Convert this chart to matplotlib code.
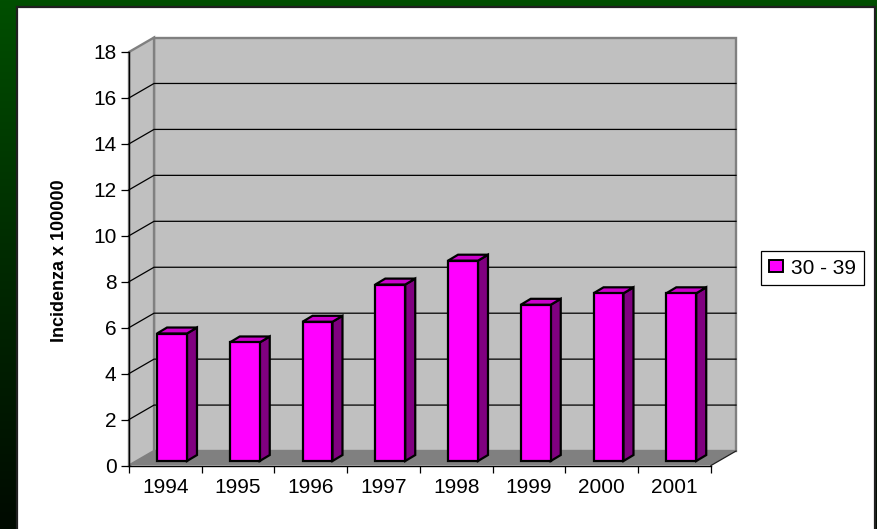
#!/usr/bin/env python3
"""Incidence per 100000 by year, age band 30 - 39, as a pseudo-3D column chart."""

import numpy as np
import matplotlib
matplotlib.use('Agg')
import matplotlib.pyplot as plt
from matplotlib.colors import LinearSegmentedColormap
from matplotlib.patches import Patch, Polygon, Rectangle

years = ['1994', '1995', '1996', '1997', '1998', '1999', '2000', '2001']
incidence = [5.55, 5.16, 6.06, 7.68, 8.72, 6.8, 7.3, 7.3]
y_ticks = [0, 2, 4, 6, 8, 10, 12, 14, 16, 18]
series_name = '30 - 39'
y_label = 'Incidenza x 100000'

W, H = 878, 529
FONT = 'Liberation Sans'

# depth of the chart box and of a single column, in data units
DEPTH_X, DEPTH_Y = 0.344, 0.63
BAR_DX, BAR_DY = 0.1375, 0.26
BAR_W = 0.412
BAR_SHIFT_X, BAR_SHIFT_Y = 0.385, 0.196


def add_poly(ax, pts, face, edge='none', lw=0, z=1):
    ax.add_patch(Polygon(pts, closed=True, facecolor=face, edgecolor=edge,
                         linewidth=lw, zorder=z, clip_on=False,
                         joinstyle='miter'))


def draw_box(ax, n, top):
    """Back wall, side wall, floor and the gridlines running over the walls."""
    dx, dy = DEPTH_X, DEPTH_Y
    add_poly(ax, [(dx, dy), (n + dx, dy), (n + dx, top + dy), (dx, top + dy)],
             '#c0c0c0', '#808080', 1.7, 1)
    add_poly(ax, [(0, 0), (dx, dy), (dx, top + dy), (0, top)],
             '#c0c0c0', '#808080', 1.7, 1.1)
    add_poly(ax, [(0, 0), (n, 0), (n + dx, dy), (dx, dy)], '#808080', z=1.2)
    ax.plot([n, n + dx], [0, dy], color='#202020', lw=0.9, zorder=1.3,
            clip_on=False)
    for v in y_ticks[1:-1]:
        ax.plot([0, dx, n + dx], [v, v + dy, v + dy], color='black', lw=0.9,
                zorder=1.5, clip_on=False)


def draw_column(ax, i, value):
    x0 = i + BAR_SHIFT_X
    x1 = x0 + BAR_W
    y0 = BAR_SHIFT_Y
    y1 = y0 + value
    dx, dy = BAR_DX, BAR_DY
    z = 3 + i * 0.01
    add_poly(ax, [(x1, y0), (x1 + dx, y0 + dy), (x1 + dx, y1 + dy), (x1, y1)],
             '#800080', 'black', 1.6, z)
    add_poly(ax, [(x0, y1), (x1, y1), (x1 + dx, y1 + dy), (x0 + dx, y1 + dy)],
             '#cc00cc', 'black', 1.6, z)
    add_poly(ax, [(x0, y0), (x1, y0), (x1, y1), (x0, y1)],
             '#ff00ff', 'black', 1.6, z)


def main():
    fig = plt.figure(figsize=(W / 100, H / 100), dpi=100)

    # green slide background fading to black
    bg = fig.add_axes([0, 0, 1, 1], zorder=0)
    cmap = LinearSegmentedColormap.from_list('slide', ['#004f00', '#002a00', '#000a00'])
    bg.imshow(np.linspace(0, 1, 256)[:, None], aspect='auto', cmap=cmap,
              extent=[0, W, H, 0])
    bg.add_patch(Rectangle((17.5, 6.5), 858, H, facecolor='white',
                           edgecolor='#202020', linewidth=1.6))
    bg.set_xlim(0, W)
    bg.set_ylim(H, 0)
    bg.axis('off')

    ax = fig.add_axes([129 / W, (H - 465.5) / H, 582 / W, 413.5 / H], zorder=1)
    ax.patch.set_alpha(0)
    n = len(years)
    ax.set_xlim(0, n)
    ax.set_ylim(y_ticks[0], y_ticks[-1])

    draw_box(ax, n, y_ticks[-1])
    for i, value in enumerate(incidence):
        draw_column(ax, i, value)

    for side in ('top', 'right'):
        ax.spines[side].set_visible(False)
    for side in ('left', 'bottom'):
        ax.spines[side].set_linewidth(1.0)
        ax.spines[side].set_zorder(2)

    ax.set_yticks(y_ticks)
    ax.set_yticklabels([str(v) for v in y_ticks], fontsize=15, family=FONT)
    ax.tick_params(axis='y', length=6, width=0.9, pad=3)
    ax.set_xticks(np.arange(n + 1))
    ax.set_xticklabels([])
    ax.set_xticks(np.arange(n) + 0.5, minor=True)
    ax.set_xticklabels(years, minor=True, fontsize=15, family=FONT)
    ax.tick_params(axis='x', which='major', length=5, width=0.9)
    ax.tick_params(axis='x', which='minor', length=0, pad=9)

    fig.text(59.5 / W, 1 - 261 / H, y_label, rotation=90, ha='center', va='center',
             fontsize=13, fontweight='bold', family=FONT)

    handle = Patch(facecolor='#ff00ff', edgecolor='black', linewidth=1.4)
    leg = fig.legend(handles=[handle], labels=[series_name], loc='center',
                     bbox_to_anchor=(812.5 / W, 1 - 268 / H), fancybox=False,
                     framealpha=1, edgecolor='black', prop={'family': FONT, 'size': 15},
                     handlelength=0.66, handleheight=0.52, handletextpad=0.4,
                     borderpad=0.36, borderaxespad=0)
    leg.get_frame().set_linewidth(0.9)

    fig.savefig('out.png', dpi=100)


if __name__ == '__main__':
    main()
